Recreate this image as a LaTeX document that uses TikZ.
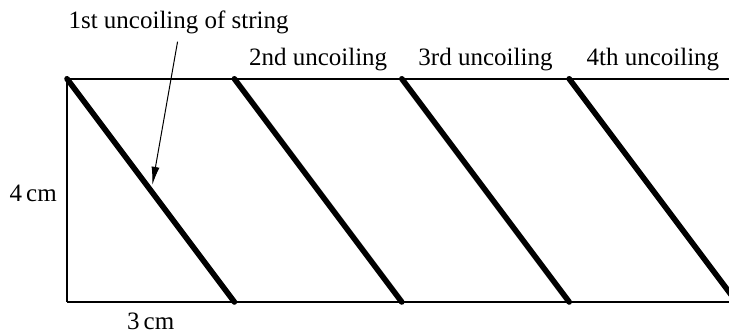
\documentclass[tikz,border=0pt]{standalone}
\usepackage{fontspec}
\setmainfont{Liberation Serif}
\usetikzlibrary{arrows.meta}
\tikzset{
  coil/.style={line width=2.8pt,line cap=round},
  edge/.style={line width=0.9pt},
  lbl/.style={font=\fontsize{12.5pt}{14pt}\selectfont,inner sep=1pt}
}
\begin{document}
\begin{tikzpicture}[x=27.9pt,y=27.9pt]
  \clip (-1.2007,-0.5735) rectangle (11.864,5.412);
  % the unrolled paper
  \draw[edge] (0,0) -- (0,4);
  \draw[edge] (0,4) -- (12,4);
  \draw[edge] (0,0) -- (12,0);
  % the string
  \draw[coil] (0,4) -- (3,0);
  \draw[coil] (3,4) -- (6,0);
  \draw[coil] (6,4) -- (9,0);
  \draw[coil] (9,4) -- (12,0);
  % labels
  \node[lbl,anchor=base] (first) at (2,4.91) {1st uncoiling of string};
  \node[lbl,anchor=base] (second) at (4.5,4.23) {2nd uncoiling};
  \node[lbl,anchor=base] (third) at (7.5,4.23) {3rd uncoiling};
  \node[lbl,anchor=base] (fourth) at (10.5,4.23) {4th uncoiling};
  \node[lbl,anchor=east] (height) at (-0.14,1.95) {4\,cm};
  \node[lbl,anchor=north] (width) at (1.5,-0.15) {3\,cm};
  \coordinate (hit) at (1.53,2.1);
  \draw[line width=0.5pt,-{Latex[length=9pt,width=4pt]},shorten <=3pt] (first.south) -- (hit);
\end{tikzpicture}
\end{document}
